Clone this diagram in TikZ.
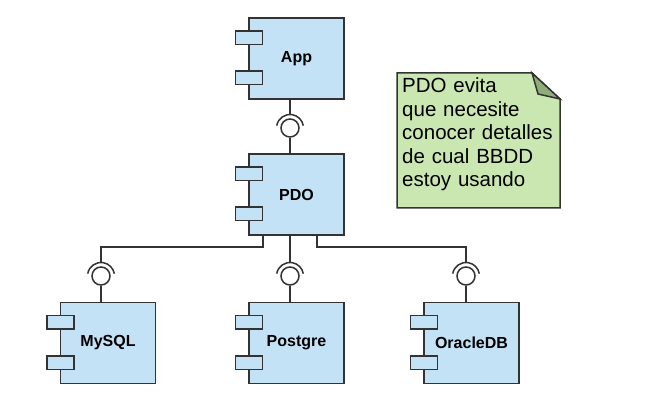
\documentclass[tikz,border=0pt]{standalone}
\usepackage{fontspec}
\setmainfont{Liberation Sans}
\usetikzlibrary{backgrounds}
\definecolor{compblue}{HTML}{C4E2F6}
\definecolor{notegreen}{HTML}{CBE7B1}
\definecolor{foldgreen}{HTML}{8FAD78}
\definecolor{linegray}{HTML}{333333}

\begin{document}
\begin{tikzpicture}[x=1pt,y=1pt,
    component/.style={draw=linegray, fill=compblue, line width=1.5pt, minimum width=95pt, minimum height=81pt, inner sep=0, font=\fontsize{16}{19}\selectfont\bfseries},
    ball/.style={circle, draw=linegray, fill=white, line width=1.5pt, minimum size=18pt, inner sep=0},
    wire/.style={draw=linegray, line width=1.5pt},
    notetext/.style={text width=153pt, inner sep=0, align=left, font=\fontsize{20.5}{23.5}\selectfont}]
                \useasboundingbox (0,0) rectangle (651,402);
                \newcommand{\portw}{27}
                \newcommand{\porth}{13.5}
                \newcommand{\sockr}{13.5}

                % Draw components
                \node[component] (app) at (296.5,343.5) {App};
                \node[component] (pdo) at (296.5,207.5) {PDO};
                \node[component] (mysql) at (108,59) {MySQL};
                \node[component] (postgre) at (296.5,59) {Postgre};
                \node[component] (oracle) at (471.5,59) {OracleDB};

                % Draw ports
                \foreach \c in {app,pdo,mysql,postgre,oracle} {
                    \foreach \d in {14,54} {
                        \draw[wire, fill=compblue] ([xshift=-13pt,yshift=-\d pt]\c.north west) rectangle ++(\portw,-\porth);
                    }
                }

                % Draw interfaces
                \node[ball] (ballapp) at (290,274) {};
                \node[ball] (ballmysql) at (101,126) {};
                \node[ball] (ballpostgre) at (290,126) {};
                \node[ball] (balloracle) at (466,126) {};
                \foreach \b in {app,mysql,postgre,oracle} {
                    \draw[wire] ([shift={(170:\sockr)}]ball\b.center) arc[start angle=170, end angle=10, radius=\sockr];
                    \coordinate (sock\b) at ([yshift=\sockr pt]ball\b.center);
                }

                % Draw App - PDO
                \draw[wire] (app.south -| sockapp) -- (sockapp);
                \draw[wire] (ballapp.south) -- (ballapp.south |- pdo.north);

                % Draw PDO - databases
                \coordinate (tapleft) at (263,155);
                \coordinate (tapright) at (317,155);
                \draw[wire] (tapleft |- pdo.south) -- (tapleft) -| (sockmysql);
                \draw[wire] (sockpostgre |- pdo.south) -- (sockpostgre);
                \draw[wire] (tapright |- pdo.south) -- (tapright) -| (sockoracle);
                \foreach \b in {mysql,postgre,oracle} {
                    \draw[wire] (ball\b.south) -- (ball\b.south |- \b.north);
                }

                % Draw note
                \coordinate (notenw) at (397,329);
                \coordinate (notese) at (560,194);
                \node[notetext, anchor=base west] (note) at (402,309) {PDO evita\\que necesite\\conocer detalles\\de cual BBDD\\estoy usando};
                \begin{scope}[on background layer]
                    \draw[wire, fill=notegreen] (notese -| notenw) -- (notenw) -- ([xshift=-28pt]notenw -| notese) -- ([yshift=-26pt]notenw -| notese) -- (notese) -- cycle;
                    \draw[wire, fill=foldgreen] ([xshift=-28pt]notenw -| notese) -- ([xshift=-22pt,yshift=-21pt]notenw -| notese) -- ([yshift=-26pt]notenw -| notese) -- cycle;
                \end{scope}
            \end{tikzpicture}
\end{document}
